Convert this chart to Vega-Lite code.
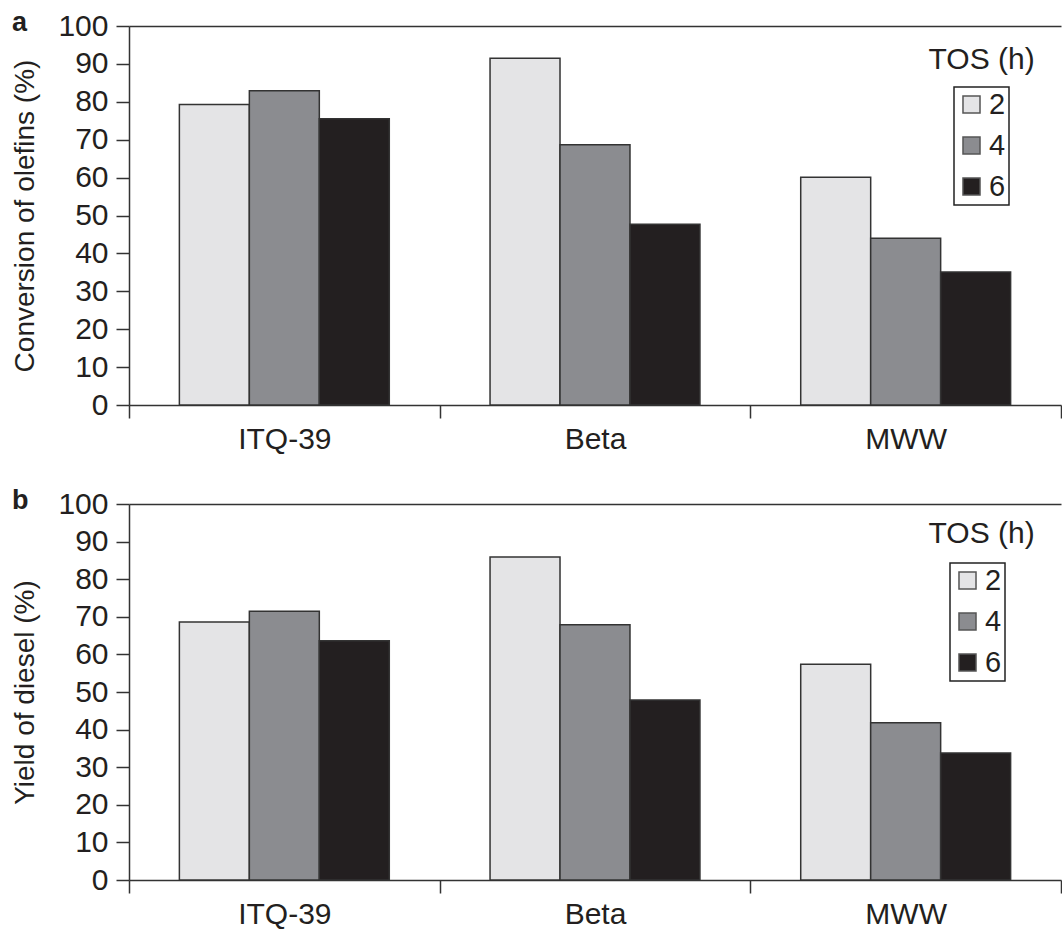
{
  "$schema": "https://vega.github.io/schema/vega-lite/v6.json",
  "padding": {"left": 11, "top": 9, "right": 0, "bottom": 0},
  "background": "white",
  "datasets": {
    "conv": [
      {"zeolite": "ITQ-39", "TOS": "2", "value": 79.3},
      {"zeolite": "ITQ-39", "TOS": "4", "value": 82.9},
      {"zeolite": "ITQ-39", "TOS": "6", "value": 75.5},
      {"zeolite": "Beta", "TOS": "2", "value": 91.5},
      {"zeolite": "Beta", "TOS": "4", "value": 68.7},
      {"zeolite": "Beta", "TOS": "6", "value": 47.7},
      {"zeolite": "MWW", "TOS": "2", "value": 60.1},
      {"zeolite": "MWW", "TOS": "4", "value": 44.0},
      {"zeolite": "MWW", "TOS": "6", "value": 35.1}
    ],
    "yield": [
      {"zeolite": "ITQ-39", "TOS": "2", "value": 68.6},
      {"zeolite": "ITQ-39", "TOS": "4", "value": 71.5},
      {"zeolite": "ITQ-39", "TOS": "6", "value": 63.6},
      {"zeolite": "Beta", "TOS": "2", "value": 85.9},
      {"zeolite": "Beta", "TOS": "4", "value": 67.9},
      {"zeolite": "Beta", "TOS": "6", "value": 47.9},
      {"zeolite": "MWW", "TOS": "2", "value": 57.4},
      {"zeolite": "MWW", "TOS": "4", "value": 41.8},
      {"zeolite": "MWW", "TOS": "6", "value": 33.8}
    ]
  },
  "config": {
    "font": "Liberation Sans",
    "view": {"stroke": null},
    "axis": {
      "domainColor": "#333333",
      "tickColor": "#333333",
      "domainWidth": 1.5,
      "tickWidth": 1.5,
      "labelFont": "Liberation Sans",
      "labelFontSize": 30,
      "labelColor": "#231f20",
      "labelOverlap": false,
      "titleFont": "Liberation Sans",
      "titleFontSize": 28,
      "titleFontWeight": "normal",
      "titleColor": "#231f20"
    },
    "axisY": {"tickCount": 12},
    "legend": {
      "labelFont": "Liberation Sans",
      "labelFontSize": 29,
      "labelColor": "#231f20",
      "symbolType": "square",
      "symbolSize": 290,
      "symbolStrokeColor": "#555555",
      "symbolStrokeWidth": 1.5,
      "symbolOpacity": 1,
      "strokeColor": "#222222",
      "strokeWidth": 1.5,
      "padding": 3,
      "rowPadding": 11,
      "labelOffset": 3
    },
    "title": {"font": "Liberation Sans", "fontSize": 27, "fontWeight": "bold", "color": "#231f20"}
  },
  "spacing": 33,
  "resolve": {"scale": {"color": "independent"}, "legend": {"color": "independent"}},
  "vconcat": [
    {
      "title": {"text": "a", "anchor": "start", "frame": "bounds", "offset": -26},
      "width": 932,
      "height": 379,
      "data": {"name": "conv"},
      "layer": [
        {
          "mark": {"type": "bar", "stroke": "#333333", "strokeWidth": 1.5},
          "encoding": {
            "x": {"field": "zeolite", "type": "nominal", "sort": ["ITQ-39", "Beta", "MWW"],
                  "scale": {"paddingInner": 0, "paddingOuter": 0},
                  "axis": {"title": null, "labelAngle": 0, "tickBand": "extent", "tickSize": 13, "labelPadding": 6}},
            "xOffset": {"field": "TOS", "type": "nominal", "sort": ["2", "4", "6"],
                        "scale": {"paddingInner": 0, "paddingOuter": 0.72}},
            "y": {"field": "value", "type": "quantitative", "scale": {"domain": [0, 100], "nice": false},
                  "axis": {"title": "Conversion of olefins (%)", "values": [0, 10, 20, 30, 40, 50, 60, 70, 80, 90, 100],
                           "tickCount": 12, "tickSize": 13, "labelPadding": 8, "titlePadding": 18, "grid": true,
                           "gridColor": {"condition": {"test": "datum.value === 100", "value": "#333333"}, "value": "transparent"},
                           "gridWidth": 1.5}},
            "color": {"field": "TOS", "type": "nominal",
                      "scale": {"domain": ["2", "4", "6"], "range": ["#e4e4e6", "#8b8c90", "#231f20"]},
                      "legend": {"title": null, "orient": "none", "legendX": 825, "legendY": 61}}
          }
        },
        {
          "data": {"values": [{"label": "TOS (h)"}]},
          "mark": {"type": "text", "fontSize": 30, "color": "#231f20", "dx": 6},
          "encoding": {
            "text": {"field": "label"},
            "x": {"datum": "MWW", "type": "nominal",
                  "axis": {"title": null, "labelAngle": 0, "tickBand": "extent", "tickSize": 13, "labelPadding": 6}},
            "xOffset": {"datum": "6", "type": "nominal"},
            "y": {"datum": 91, "type": "quantitative",
                  "axis": {"title": "Conversion of olefins (%)", "values": [0, 10, 20, 30, 40, 50, 60, 70, 80, 90, 100],
                           "tickCount": 12, "tickSize": 13, "labelPadding": 8, "titlePadding": 18, "grid": true,
                           "gridColor": {"condition": {"test": "datum.value === 100", "value": "#333333"}, "value": "transparent"},
                           "gridWidth": 1.5}}
          }
        }
      ]
    },
    {
      "title": {"text": "b", "anchor": "start", "frame": "bounds", "offset": -26},
      "width": 932,
      "height": 376,
      "data": {"name": "yield"},
      "layer": [
        {
          "mark": {"type": "bar", "stroke": "#333333", "strokeWidth": 1.5},
          "encoding": {
            "x": {"field": "zeolite", "type": "nominal", "sort": ["ITQ-39", "Beta", "MWW"],
                  "scale": {"paddingInner": 0, "paddingOuter": 0},
                  "axis": {"title": null, "labelAngle": 0, "tickBand": "extent", "tickSize": 13, "labelPadding": 6}},
            "xOffset": {"field": "TOS", "type": "nominal", "sort": ["2", "4", "6"],
                        "scale": {"paddingInner": 0, "paddingOuter": 0.72}},
            "y": {"field": "value", "type": "quantitative", "scale": {"domain": [0, 100], "nice": false},
                  "axis": {"title": "Yield of diesel (%)", "values": [0, 10, 20, 30, 40, 50, 60, 70, 80, 90, 100],
                           "tickCount": 12, "tickSize": 13, "labelPadding": 8, "titlePadding": 18, "grid": true,
                           "gridColor": {"condition": {"test": "datum.value === 100", "value": "#333333"}, "value": "transparent"},
                           "gridWidth": 1.5}},
            "color": {"field": "TOS", "type": "nominal",
                      "scale": {"domain": ["2", "4", "6"], "range": ["#e4e4e6", "#8b8c90", "#231f20"]},
                      "legend": {"title": null, "orient": "none", "legendX": 821, "legendY": 59}}
          }
        },
        {
          "data": {"values": [{"label": "TOS (h)"}]},
          "mark": {"type": "text", "fontSize": 30, "color": "#231f20", "dx": 6},
          "encoding": {
            "text": {"field": "label"},
            "x": {"datum": "MWW", "type": "nominal",
                  "axis": {"title": null, "labelAngle": 0, "tickBand": "extent", "tickSize": 13, "labelPadding": 6}},
            "xOffset": {"datum": "6", "type": "nominal"},
            "y": {"datum": 92, "type": "quantitative",
                  "axis": {"title": "Yield of diesel (%)", "values": [0, 10, 20, 30, 40, 50, 60, 70, 80, 90, 100],
                           "tickCount": 12, "tickSize": 13, "labelPadding": 8, "titlePadding": 18, "grid": true,
                           "gridColor": {"condition": {"test": "datum.value === 100", "value": "#333333"}, "value": "transparent"},
                           "gridWidth": 1.5}}
          }
        }
      ]
    }
  ]
}
